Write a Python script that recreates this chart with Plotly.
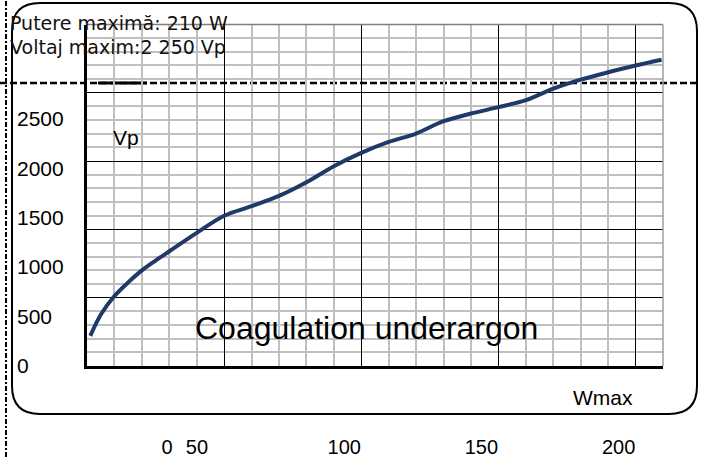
import plotly.graph_objects as go

# ---- data ----
power_w = [1.2, 5, 10, 15, 20, 25, 30, 40, 50, 60, 70, 80, 90, 100, 110, 120,
           130, 140, 150, 160, 170, 180, 190, 200, 209.5]
voltage_vp = [221, 375, 512, 612, 700, 772, 840, 975, 1100, 1170, 1245, 1345, 1463,
              1560, 1640, 1702, 1792, 1848, 1895, 1946, 2030, 2096, 2150, 2200, 2242]

y_tick_labels = ["0", "500", "1000", "1500", "2000", "2500"]
y_tick_values = [0, 500, 1000, 1500, 2000, 2500]
x_tick_labels = ["0", "50", "100", "150", "200"]
x_tick_values = [35.4, 46.3, 100, 150, 200]   # where the (offset) labels sit

title_lines = ["Putere maximă: 210 W", "Voltaj maxim:2 250 Vp"]
chart_caption = "Coagulation underargon"
y_title = "Vp"
x_title = "Wmax"

W, H = 711, 457


def px(x):
    return x / W


def py(y):
    return 1 - y / H


ARIAL = "Liberation Sans, Arial, sans-serif"

fig = go.Figure()
fig.add_trace(go.Scatter(
    x=power_w, y=voltage_vp, mode="lines",
    line=dict(color="#1F3A68", width=4, shape="spline", smoothing=0.9),
    showlegend=False, hoverinfo="skip"))
# invisible trace carrying the label axes
fig.add_trace(go.Scatter(x=[], y=[], xaxis="x2", yaxis="y2", showlegend=False))

minor_grid = dict(showgrid=True, gridcolor="#BFBFBF", gridwidth=1.5)

fig.update_layout(
    width=W, height=H,
    margin=dict(l=0, r=0, t=0, b=0, pad=0),
    paper_bgcolor="white", plot_bgcolor="white",
    xaxis=dict(domain=[px(87), px(663)], range=[0, 210], tick0=0, dtick=50,
               showgrid=True, gridcolor="black", gridwidth=1,
               minor=dict(dtick=10, tick0=0, **minor_grid),
               showticklabels=False, ticks="", zeroline=False, automargin=False,
               showline=True, linecolor="black", linewidth=2.5, fixedrange=True),
    yaxis=dict(domain=[py(366), py(24.5)], range=[0, 2500], tick0=0, dtick=500,
               showgrid=True, gridcolor="black", gridwidth=1,
               minor=dict(dtick=100, tick0=0, **minor_grid),
               showticklabels=False, ticks="", zeroline=False, automargin=False,
               showline=True, linecolor="black", linewidth=2.5, fixedrange=True),
    xaxis2=dict(overlaying="x", anchor="free", position=py(433), side="bottom",
                range=[6.2, 216.2], tickmode="array", tickvals=x_tick_values,
                ticktext=x_tick_labels, showgrid=False, zeroline=False,
                showline=False, ticks="", automargin=False, fixedrange=True,
                tickfont=dict(family=ARIAL, size=20, color="black")),
    yaxis2=dict(overlaying="y", anchor="free", position=px(16), side="right",
                range=[-3, 3458.5], tickmode="array", tickvals=y_tick_values,
                ticktext=y_tick_labels, showgrid=False, zeroline=False,
                showline=False, ticks="", automargin=False, fixedrange=True,
                tickfont=dict(family=ARIAL, size=21, color="black")),
)

# rounded outer frame
L, R, T, B, r = 12, 697, 3, 414, 28
path = (f"M {px(L + r)} {py(T)} L {px(R - r)} {py(T)} "
        f"Q {px(R)} {py(T)} {px(R)} {py(T + r)} L {px(R)} {py(B - r)} "
        f"Q {px(R)} {py(B)} {px(R - r)} {py(B)} L {px(L + r)} {py(B)} "
        f"Q {px(L)} {py(B)} {px(L)} {py(B - r)} L {px(L)} {py(T + r)} "
        f"Q {px(L)} {py(T)} {px(L + r)} {py(T)} Z")
fig.add_shape(type="path", path=path, xref="paper", yref="paper",
              line=dict(color="black", width=2), layer="above")

# plot-area top and right edges
fig.add_shape(type="line", xref="paper", yref="paper", x0=px(87), x1=px(663),
              y0=py(24.5), y1=py(24.5), line=dict(color="#7F7F7F", width=1.5))
fig.add_shape(type="line", xref="paper", yref="paper", x0=px(663), x1=px(663),
              y0=py(24.5), y1=py(366), line=dict(color="#9F9F9F", width=1.5))

# decorative dashed lines
fig.add_shape(type="line", xref="paper", yref="paper", x0=0, x1=px(697),
              y0=py(83), y1=py(83), line=dict(color="black", width=2.5, dash="7px,3px"),
              layer="between")
fig.add_shape(type="line", xref="paper", yref="paper", x0=px(98), x1=px(147),
              y0=py(83), y1=py(83), line=dict(color="black", width=3), layer="between")
fig.add_shape(type="line", xref="paper", yref="paper", x0=px(6), x1=px(6),
              y0=0, y1=1, line=dict(color="black", width=2, dash="5px,2px,2px,2px"))

ann = []
ann.append(dict(text=title_lines[0], x=px(8), y=py(23), xanchor="left", yanchor="middle",
                font=dict(family="DejaVu Sans", size=19, color="#111")))
ann.append(dict(text=title_lines[1], x=px(8), y=py(47.5), xanchor="left", yanchor="middle",
                font=dict(family="DejaVu Sans", size=19, color="#111")))
ann.append(dict(text=y_title, x=px(111), y=py(137), xanchor="left", yanchor="middle",
                font=dict(family=ARIAL, size=21, color="black")))
ann.append(dict(text=chart_caption, x=px(366), y=py(328), xanchor="center", yanchor="middle",
                font=dict(family=ARIAL, size=32, color="black")))
ann.append(dict(text=x_title, x=px(571), y=py(397), xanchor="left", yanchor="middle",
                font=dict(family=ARIAL, size=21, color="black")))
for a in ann:
    a.update(xref="paper", yref="paper", showarrow=False)
fig.update_layout(annotations=ann)

fig.write_html(
    "out.html",
    config={"displayModeBar": False},
    post_script=("var gd=document.getElementById('{plot_id}');"
                 "document.body.style.margin='0px';"
                 "gd.style.position='fixed';gd.style.left='0px';gd.style.top='0px';"),
)
